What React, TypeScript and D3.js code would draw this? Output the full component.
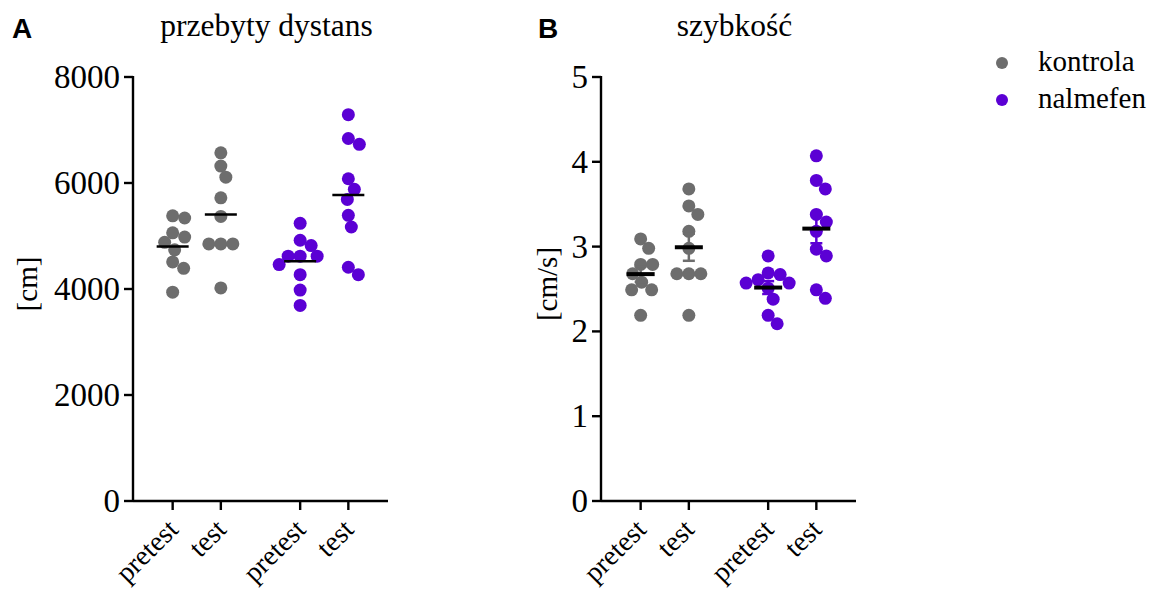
import React from 'react';
import * as d3 from 'd3';

const groups = ['kontrola', 'nalmefen'];
const sessions = ['pretest', 'test'];
const groupColors = ['#6d6d6d', '#5b00d4'];

// przebyty dystans [cm]
const distKontrolaPretest = [5380, 5340, 5060, 4980, 4880, 4740, 4510, 4390, 3940];
const distKontrolaTest = [6570, 6320, 6110, 5720, 5370, 4850, 4850, 4850, 4020];
const distNalmefenPretest = [5240, 4920, 4820, 4620, 4620, 4620, 4460, 4270, 3980, 3690];
const distNalmefenTest = [7290, 6840, 6730, 6080, 5880, 5690, 5390, 5170, 4410, 4270];

// szybkość [cm/s]
const speedKontrolaPretest = [3.09, 2.98, 2.79, 2.79, 2.68, 2.58, 2.49, 2.49, 2.19];
const speedKontrolaTest = [3.68, 3.48, 3.38, 3.18, 2.98, 2.68, 2.68, 2.68, 2.19];
const speedNalmefenPretest = [2.89, 2.69, 2.67, 2.61, 2.57, 2.57, 2.51, 2.38, 2.19, 2.09];
const speedNalmefenTest = [4.07, 3.78, 3.68, 3.38, 3.29, 3.18, 2.97, 2.89, 2.49, 2.39];

const SERIF = '"Liberation Serif", "Times New Roman", serif';
const SANS = '"Liberation Sans", Arial, sans-serif';
const R = 6.5;

// simple beeswarm: push overlapping dots sideways
function swarm(ys: number[], minDist: number) {
  const placed: { x: number; y: number }[] = [];
  return ys.map((y) => {
    let off = 0;
    for (let k = 0; k < 60; k++) {
      const cands = k === 0 ? [0] : [k, -k];
      const ok = cands.find((c) => placed.every((p) => Math.hypot(p.x - c, p.y - y) >= minDist));
      if (ok !== undefined) { off = ok; break; }
    }
    placed.push({ x: off, y });
    return off;
  });
}

type PanelProps = {
  letter: string;
  letterX: number;
  title: string;
  yLabel: string;
  labelX: number;
  x0: number;
  x1: number;
  yMax: number;
  nTicks: number;
  series: number[][][]; // [group][session] values
  meanWidth: number;
  meanHalf: number;
  errorBars: boolean;
};

const Panel = ({ letter, letterX, title, yLabel, labelX, x0, x1, yMax, nTicks, series, meanWidth, meanHalf, errorBars }: PanelProps) => {
  const y = d3.scaleLinear().domain([0, yMax]).range([501, 77]);
  const outer = d3.scaleBand().domain(groups).range([x0, x1]).padding(0);
  const inner = d3.scalePoint().domain(sessions).range([0, outer.bandwidth()]).padding(0.823);
  const ticks = y.ticks(nTicks);
  const axisY = y(0);

  return (
    <g>
      <text x={letterX} y={38} fontFamily={SANS} fontWeight="bold" fontSize={28}>{letter}</text>
      <text x={(x0 + x1) / 2 + 6} y={36} fontFamily={SERIF} fontSize={31.5} textAnchor="middle">{title}</text>
      <text transform={`translate(${labelX},${(y(0) + y(yMax)) / 2 - 5}) rotate(-90)`} fontFamily={SERIF} fontSize={29} textAnchor="middle" dominantBaseline="central">{yLabel}</text>

      {groups.map((g, gi) =>
        sessions.map((s, si) => {
          const vals = series[gi][si];
          const cx = (outer(g) ?? 0) + (inner(s) ?? 0);
          const offs = swarm(vals.map((v) => y(v)), 12);
          const mean = d3.mean(vals) ?? 0;
          const sem = (d3.deviation(vals) ?? 0) / Math.sqrt(vals.length);
          const col = groupColors[gi];
          return (
            <g key={g + s}>
              {vals.map((v, i) => (
                <circle key={i} cx={cx + offs[i]} cy={y(v)} r={R} fill={col} />
              ))}
              {errorBars && (
                <g stroke={col} strokeWidth={2.5}>
                  <line x1={cx} x2={cx} y1={y(mean - sem)} y2={y(mean + sem)} />
                  <line x1={cx - 6} x2={cx + 6} y1={y(mean - sem)} y2={y(mean - sem)} />
                  <line x1={cx - 6} x2={cx + 6} y1={y(mean + sem)} y2={y(mean + sem)} />
                </g>
              )}
              <line x1={cx - meanHalf} x2={cx + meanHalf} y1={y(mean)} y2={y(mean)} stroke="#000" strokeWidth={meanWidth} />
            </g>
          );
        })
      )}

      {/* y axis */}
      <line x1={x0} x2={x0} y1={y(yMax) - 1} y2={axisY + 1} stroke="#000" strokeWidth={2.4} />
      {ticks.map((t) => (
        <g key={t}>
          <line x1={x0 - 9} x2={x0} y1={y(t)} y2={y(t)} stroke="#000" strokeWidth={2.4} />
          <text x={x0 - 13} y={y(t)} fontFamily={SERIF} fontSize={33} textAnchor="end" dominantBaseline="central">{t}</text>
        </g>
      ))}

      {/* x axis */}
      <line x1={x0} x2={x1} y1={axisY} y2={axisY} stroke="#000" strokeWidth={2.4} />
      {groups.map((g) =>
        sessions.map((s) => {
          const cx = (outer(g) ?? 0) + (inner(s) ?? 0);
          return (
            <g key={g + s}>
              <line x1={cx} x2={cx} y1={axisY} y2={axisY + 9} stroke="#000" strokeWidth={2.4} />
              <text transform={`translate(${cx + 7},${axisY + 30}) rotate(-45)`} fontFamily={SERIF} fontSize={28} textAnchor="end">{s}</text>
            </g>
          );
        })
      )}
    </g>
  );
};

export default function App() {
  return (
    <svg width={1154} height={594} style={{ position: 'absolute', left: 0, top: 0, background: '#fff' }}>
      <Panel
        letter="A" letterX={12} title="przebyty dystans" yLabel="[cm]" labelX={27}
        x0={133} x1={388} yMax={8000} nTicks={4}
        series={[[distKontrolaPretest, distKontrolaTest], [distNalmefenPretest, distNalmefenTest]]}
        meanWidth={2.5} meanHalf={16} errorBars={false}
      />
      <Panel
        letter="B" letterX={538} title="szybkość" yLabel="[cm/s]" labelX={547}
        x0={601} x1={856} yMax={5} nTicks={5}
        series={[[speedKontrolaPretest, speedKontrolaTest], [speedNalmefenPretest, speedNalmefenTest]]}
        meanWidth={4} meanHalf={14} errorBars={true}
      />
      {groups.map((g, i) => (
        <g key={g}>
          <circle cx={1002} cy={63 + i * 37} r={6} fill={groupColors[i]} />
          <text x={1038} y={71 + i * 37} fontFamily={SERIF} fontSize={29}>{g}</text>
        </g>
      ))}
    </svg>
  );
}
